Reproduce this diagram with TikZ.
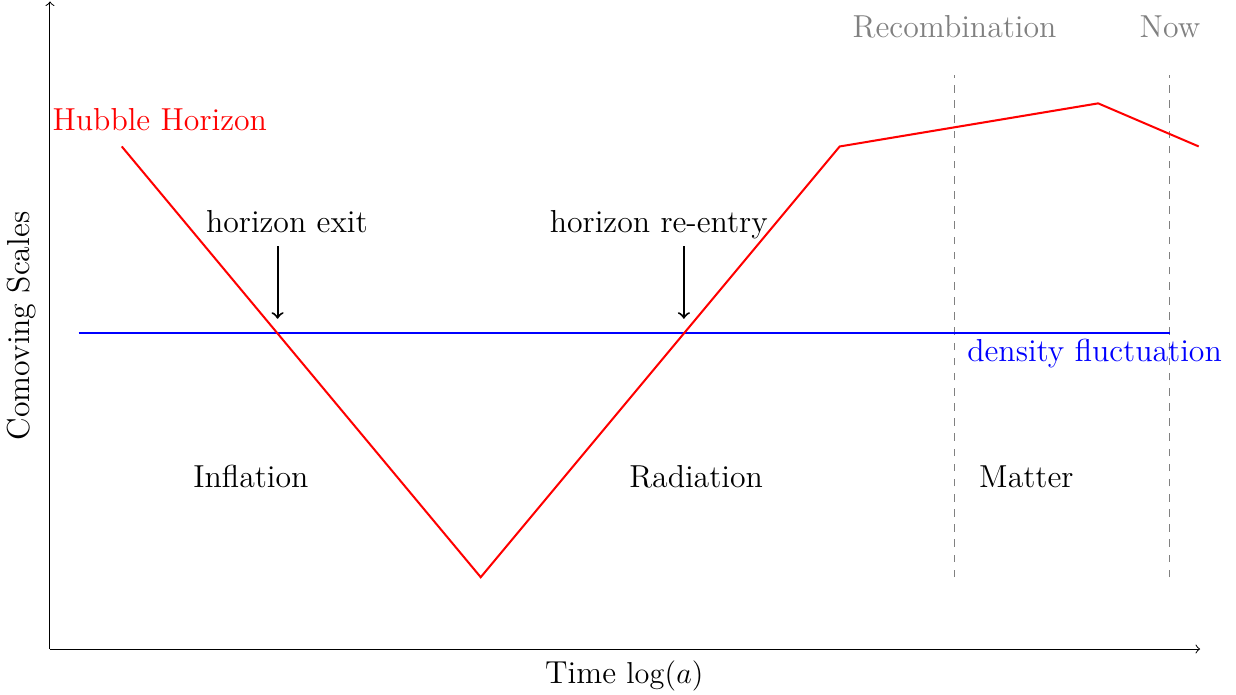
\documentclass[tikz,border=0pt]{standalone}
\usetikzlibrary{positioning}

\begin{document}
\begin{tikzpicture}[
    font = \fontsize{12.6}{15}\selectfont,
    axis/.style = {->},
    horizon/.style = {red, thick},
    mode/.style = {blue, thick},
    epoch/.style = {gray, dashed},
    marker/.style = {->, thick},
    era/.style = {text=black},
    epochlabel/.style = {text=gray}]

    \useasboundingbox (-0.696,-0.64) rectangle (16.52,9.04);

    % axes
    \coordinate (O) at (0,0);
    \coordinate (xend) at (16.02,0);
    \coordinate (yend) at (0,9.02);
    \draw[axis] (O) -- (xend);
    \draw[axis] (O) -- (yend);
    \node (xlabel) at (8.0,-0.38) {Time $\log(a)$};
    \node[rotate=90] (ylabel) at (-0.39,4.5) {Comoving Scales};

    % epochs
    \coordinate (recB) at (12.6,1);
    \coordinate (recT) at (12.6,8);
    \coordinate (nowB) at (15.6,1);
    \coordinate (nowT) at (15.6,8);
    \draw[epoch] (recB) -- (recT);
    \draw[epoch] (nowB) -- (nowT);
    \node[epochlabel] (rec) at (12.6,8.66) {Recombination};
    \node[epochlabel] (now) at (15.6,8.66) {Now};

    % density fluctuation
    \coordinate (d1) at (0.4,4.4);
    \coordinate (d2) at (15.6,4.4);
    \draw[mode] (d1) -- (d2);
    \node[blue] (dens) at (14.55,4.12) {density fluctuation};

    % hubble horizon
    \coordinate (h1) at (1,7);
    \coordinate (h2) at (6,1);
    \coordinate (h3) at (11,7);
    \coordinate (h4) at (14.6,7.6);
    \coordinate (h5) at (16,7);
    \draw[horizon] (h1) -- (h2) -- (h3) -- (h4) -- (h5);
    \node[red] (hubble) at (1.53,7.38) {Hubble Horizon};

    % exit and re-entry
    \node[anchor=base] (exit) at (3.30,5.80) {horizon exit};
    \node[anchor=base] (reentry) at (8.48,5.80) {horizon re-entry};
    \coordinate (exitS) at (3.17,5.61);
    \coordinate (exitE) at (3.17,4.6);
    \coordinate (reS) at (8.83,5.61);
    \coordinate (reE) at (8.83,4.6);
    \draw[marker] (exitS) -- (exitE);
    \draw[marker] (reS) -- (reE);

    % eras
    \node[era] (infl) at (2.8,2.4) {Inflation};
    \node[era] (rad) at (9.0,2.4) {Radiation};
    \node[era] (mat) at (13.6,2.4) {Matter};
\end{tikzpicture}
\end{document}
